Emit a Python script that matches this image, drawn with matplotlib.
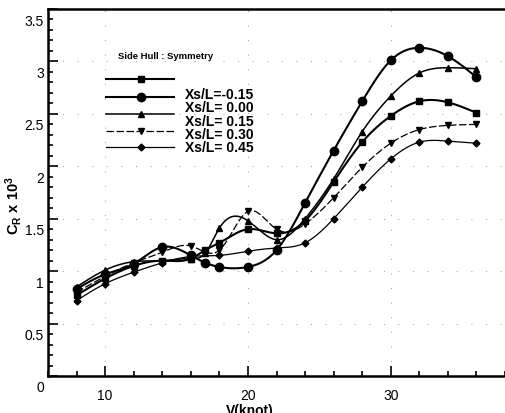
import numpy as np
import matplotlib
matplotlib.use("Agg")
import matplotlib.pyplot as plt
from matplotlib.ticker import MultipleLocator
import matplotlib.transforms as mtransforms

plt.rcParams['font.family'] = ['Liberation Sans', 'DejaVu Sans']
plt.rcParams['mathtext.fontset'] = 'custom'
plt.rcParams['mathtext.rm'] = 'Liberation Sans'
plt.rcParams['mathtext.bf'] = 'Liberation Sans:bold'

# speeds (knot)
speed = [8, 10, 12, 14, 16, 18, 20, 22, 24, 26, 28, 30, 32, 34, 36]
speed_17 = [8, 10, 12, 14, 16, 17, 18, 20, 22, 24, 26, 28, 30, 32, 34, 36]

# residual resistance coefficient CR x 10^3
cr_m015 = [0.77, 0.93, 1.05, 1.10, 1.12, 1.20, 1.27, 1.40, 1.36, 1.48, 1.85, 2.23, 2.48, 2.62, 2.61, 2.51]
cr_000 = [0.83, 0.97, 1.07, 1.23, 1.15, 1.08, 1.04, 1.04, 1.20, 1.65, 2.15, 2.62, 3.01, 3.13, 3.05, 2.85]
cr_015 = [0.85, 1.01, 1.09, 1.10, 1.12, 1.17, 1.41, 1.48, 1.30, 1.50, 1.88, 2.33, 2.67, 2.89, 2.94, 2.93]
cr_030 = [0.80, 0.95, 1.08, 1.18, 1.24, 1.20, 1.57, 1.40, 1.45, 1.70, 1.99, 2.22, 2.35, 2.39, 2.40]
cr_045 = [0.72, 0.88, 0.99, 1.08, 1.14, 1.15, 1.19, 1.22, 1.27, 1.50, 1.80, 2.07, 2.23, 2.24, 2.22]

labels = ['Xs/L=-0.15', 'Xs/L= 0.00', 'Xs/L= 0.15', 'Xs/L= 0.30', 'Xs/L= 0.45']


def smooth(x, y, n=300):
    # natural cubic spline through the points, only for drawing the curve
    x = np.asarray(x, float)
    y = np.asarray(y, float)
    h = np.diff(x)
    m = len(x)
    A = np.zeros((m, m))
    b = np.zeros(m)
    A[0, 0] = A[-1, -1] = 1
    for i in range(1, m - 1):
        A[i, i - 1] = h[i - 1]
        A[i, i] = 2 * (h[i - 1] + h[i])
        A[i, i + 1] = h[i]
        b[i] = 6 * ((y[i + 1] - y[i]) / h[i] - (y[i] - y[i - 1]) / h[i - 1])
    M = np.linalg.solve(A, b)
    xs = np.linspace(x[0], x[-1], n)
    k = np.clip(np.searchsorted(x, xs) - 1, 0, m - 2)
    t0 = x[k + 1] - xs
    t1 = xs - x[k]
    ys = (M[k] * t0 ** 3 + M[k + 1] * t1 ** 3) / (6 * h[k]) \
        + (y[k] / h[k] - M[k] * h[k] / 6) * t0 \
        + (y[k + 1] / h[k] - M[k + 1] * h[k] / 6) * t1
    return xs, ys


series = [
    (speed_17, cr_m015, dict(marker='s', ms=4.5, lw=1.5, ls='-')),
    (speed_17, cr_000, dict(marker='o', ms=6, lw=1.5, ls='-')),
    (speed_17, cr_015, dict(marker='^', ms=4.5, lw=1.1, ls='-')),
    (speed, cr_030, dict(marker='v', ms=4.5, lw=0.9, ls=(0, (6, 2)))),
    (speed, cr_045, dict(marker='D', ms=3.5, lw=0.9, ls='-')),
]

fig = plt.figure(figsize=(5.05, 4.14), dpi=100)
ax = fig.add_axes([48 / 505, 1 - 377 / 414, 1 - 48 / 505, (377 - 10) / 414])

for x, y, st in series:
    xs, ys = smooth(x, y)
    ax.plot(xs, ys, color='black', lw=st['lw'], ls=st['ls'])
    ax.plot(x, y, color='black', ls='none', marker=st['marker'], ms=st['ms'])

ax.set_xlim(6, 38)
ax.set_ylim(0, 3.5)
ax.xaxis.set_major_locator(MultipleLocator(10))
ax.xaxis.set_minor_locator(MultipleLocator(2))
ax.yaxis.set_major_locator(MultipleLocator(0.5))
ax.yaxis.set_minor_locator(MultipleLocator(0.1))
ax.set_yticks(np.arange(0, 3.51, 0.5))
ax.set_yticklabels(['0', '0.5', '1', '1.5', '2', '2.5', '3', '3.5'])
ax.tick_params(which='both', direction='in', width=1.2, labelsize=10, pad=3)
ax.tick_params(which='major', length=7)
ax.tick_params(which='minor', length=3.5)
ax.tick_params(axis='x', pad=9)
for s in ['left', 'bottom', 'top']:
    ax.spines[s].set_linewidth(1.8)
ax.spines['right'].set_visible(False)
ax.grid(True, which='major', color='0.6', lw=0.7, ls=(0, (1, 14)))

# tick labels sit a little below their ticks in the original
off = mtransforms.ScaledTranslation(0, -10 / 100, fig.dpi_scale_trans)
for lab in ax.get_yticklabels():
    lab.set_transform(lab.get_transform() + off)

fig.text(14 / 505, 1 - 205 / 414, r'$\mathbf{C_{R}}$ $\mathbf{x\ 10^{3}}$',
         rotation=90, ha='center', va='center', fontsize=10.5, fontweight='bold')
fig.text(250 / 505, 1 - 411 / 414, 'V(knot)', ha='center', va='center',
         fontsize=10, fontweight='bold')

# hand-placed legend as in the original
fig.text(118 / 505, 1 - 57 / 414, 'Side Hull : Symmetry', ha='left', va='center',
         fontsize=6.8, fontweight='bold')
line_y = [80, 98, 115, 132, 148]
text_y = [95, 108, 122, 135, 148]
for (x, y, st), ly, ty, lab in zip(series, line_y, text_y, labels):
    fig.add_artist(plt.Line2D([106 / 505, 174 / 505], [1 - ly / 414] * 2,
                              color='black', lw=st['lw'], ls=st['ls']))
    fig.add_artist(plt.Line2D([141 / 505], [1 - ly / 414], color='black',
                              marker=st['marker'], ms=st['ms'], ls='none'))
    fig.text(185 / 505, 1 - ty / 414, lab, ha='left', va='center',
             fontsize=10, fontweight='bold')

fig.savefig('out.png', dpi=100)
